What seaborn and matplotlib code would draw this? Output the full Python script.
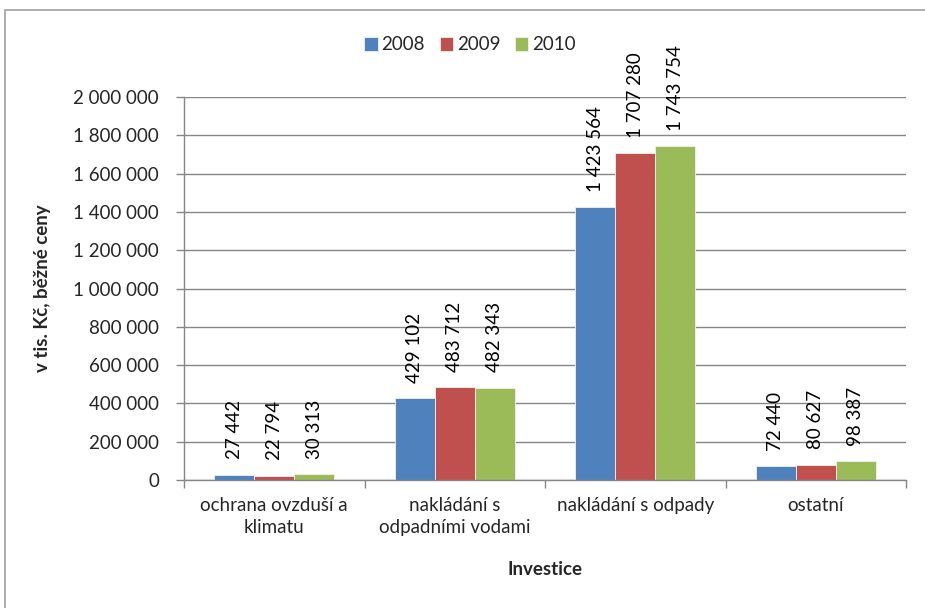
import matplotlib
matplotlib.use("Agg")
import matplotlib.pyplot as plt
import seaborn as sns
import pandas as pd
from matplotlib.patches import Rectangle

categories = ["ochrana ovzduší a\nklimatu", "nakládání s\nodpadními vodami",
              "nakládání s odpady", "ostatní"]
years = ["2008", "2009", "2010"]
v2008 = [27442, 429102, 1423564, 72440]
v2009 = [22794, 483712, 1707280, 80627]
v2010 = [30313, 482343, 1743754, 98387]
colors = ["#4F81BD", "#C0504D", "#9BBB59"]
yticks = [0, 200000, 400000, 600000, 800000, 1000000, 1200000, 1400000,
          1600000, 1800000, 2000000]

rows = []
for y, vals in zip(years, [v2008, v2009, v2010]):
    for c, v in zip(categories, vals):
        rows.append({"cat": c, "year": y, "val": v})
df = pd.DataFrame(rows)

sns.set_theme(style="white")
plt.rcParams["font.family"] = ["Lato", "DejaVu Sans"]
FS = 13.5

fig = plt.figure(figsize=(9.25, 6.08), dpi=100)
ax = fig.add_axes([184/925, 1-480/608, (906-184)/925, (480-97)/608])

sns.barplot(data=df, x="cat", y="val", hue="year", palette=colors,
            order=categories, hue_order=years, width=0.667, saturation=1,
            edgecolor="#f2f2f2", linewidth=0.6, ax=ax, legend=True, errorbar=None)

fmt = lambda v: f"{v:,}".replace(",", " ")
for cont in ax.containers:
    ax.bar_label(cont, labels=[fmt(int(b.get_height())) for b in cont],
                 rotation=90, padding=11, fontsize=FS, color="black",
                 fontfamily=["Lato", "DejaVu Sans"])

ax.set_ylim(0, 2000000)
ax.set_xlim(-0.5, 3.5)
ax.set_yticks(yticks)
ax.set_yticklabels([fmt(t) for t in yticks], fontsize=FS)
ax.yaxis.grid(True, color="#868686", linewidth=1)
ax.set_axisbelow(True)
ax.tick_params(axis="y", length=6, color="#868686", width=1, pad=12, direction="out", left=True)
ax.tick_params(axis="x", which="major", length=0, labelsize=FS, pad=12)
for t in ax.get_xticklabels():
    t.set_linespacing(1.35)
ax.set_xticks([-0.5, 0.5, 1.5, 2.5, 3.5], minor=True)
ax.tick_params(axis="x", which="minor", length=6, color="#868686", width=1, bottom=True)
for s in ["top", "right"]:
    ax.spines[s].set_visible(False)
for s in ["left", "bottom"]:
    ax.spines[s].set_color("#868686")
    ax.spines[s].set_linewidth(1)

ax.set_xlabel("Investice", fontsize=FS, fontweight="bold", labelpad=18)
ax.set_ylabel("v tis. Kč, běžné ceny", fontsize=FS, fontweight="bold", labelpad=16)

h, l = ax.get_legend_handles_labels()
ax.legend_.remove()
fig.legend(h, l, loc="center", bbox_to_anchor=(470/925, 1-45/608), ncol=3,
           frameon=False, fontsize=FS, handlelength=0.7, handleheight=0.7,
           handletextpad=0.2, columnspacing=0.8)

fig.patches.append(Rectangle((5/925, -0.05), 1.0, 1-10/608+0.05,
                             transform=fig.transFigure, fill=False,
                             edgecolor="#a0a0a0", linewidth=1.2))

fig.savefig("out.png", dpi=100)
